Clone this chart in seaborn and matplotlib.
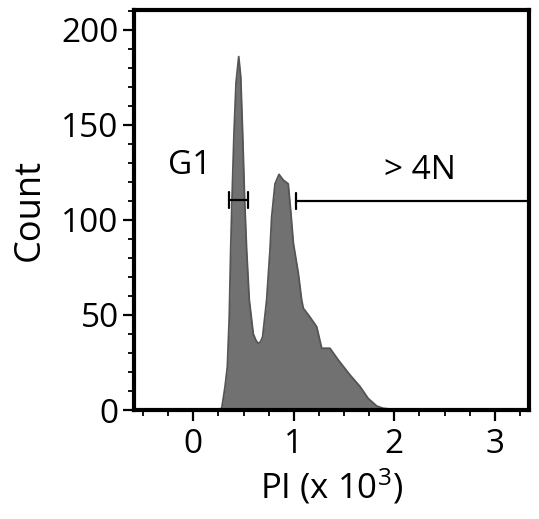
import matplotlib
matplotlib.use("Agg")
import matplotlib.pyplot as plt
from matplotlib.ticker import MultipleLocator
import seaborn as sns
import pandas as pd

# ---- data ----
pi_values = [0.10, 0.22, 0.283, 0.316, 0.339, 0.358, 0.372, 0.385, 0.405, 0.425,
             0.452, 0.472, 0.491, 0.511, 0.531, 0.557, 0.597, 0.625, 0.647, 0.67,
             0.69, 0.73, 0.763, 0.78, 0.813, 0.853, 0.896, 0.945, 0.969, 0.996,
             1.045, 1.078, 1.095, 1.11, 1.16, 1.228, 1.278, 1.36, 1.443, 1.56,
             1.66, 1.74, 1.825, 1.89, 2.05]
counts = [0, 0, 0.9, 12.3, 22.8, 49, 84, 110.5, 145.6, 172,
          186, 175.4, 145.6, 110.5, 84, 58, 40, 36.5, 35, 36,
          38.6, 58, 84, 101.7, 119, 124, 121, 119, 105, 87.7,
          72, 58, 53.5, 52.5, 49, 43.8, 32.5, 32.5, 26.3, 18.4,
          12.3, 6.1, 2.1, 0.9, 0]

gate_names = ["G1", "> 4N"]
gate_x0 = [0.358, 1.019]
gate_x1 = [0.547, 3.40]
gate_y = [110.5, 110.0]
gate_cap_right = [True, False]
label_x = [-0.04, 2.26]
label_y = [128.5, 126.0]

xticks = [0, 1, 2, 3]
yticks = [0, 50, 100, 150, 200]
x_label = "PI (x 10$^{3}$)"
y_label = "Count"

# ---- styling ----
sns.set_style("ticks")
plt.rcParams["font.family"] = ["Open Sans", "DejaVu Sans"]
plt.rcParams["mathtext.fontset"] = "custom"
plt.rcParams["mathtext.rm"] = "Open Sans"
plt.rcParams["mathtext.it"] = "Open Sans"
plt.rcParams["mathtext.default"] = "rm"
plt.rcParams["text.color"] = "black"
plt.rcParams["axes.labelcolor"] = "black"
plt.rcParams["xtick.color"] = "black"
plt.rcParams["ytick.color"] = "black"

fig = plt.figure(figsize=(5.39, 5.19), dpi=100)
ax = fig.add_axes([0.2486, 0.21, 0.7328, 0.7707])

df = pd.DataFrame({"PI": pi_values, "Count": counts})
ax.fill_between(df["PI"], 0, df["Count"], color="#717171", linewidth=0, zorder=1)
sns.lineplot(data=df, x="PI", y="Count", ax=ax, color="#555555", linewidth=1.3,
             sort=False, zorder=2)

for name, x0, x1, y, capr, lx, ly in zip(gate_names, gate_x0, gate_x1, gate_y,
                                         gate_cap_right, label_x, label_y):
    ax.plot([x0, x1], [y, y], color="black", linewidth=1.6, zorder=3, clip_on=True)
    ax.plot([x0, x0], [y - 4.4, y + 4.4], color="black", linewidth=1.6, zorder=3)
    if capr:
        ax.plot([x1, x1], [y - 4.4, y + 4.4], color="black", linewidth=1.6, zorder=3)
    ax.text(lx, ly, name, fontsize=24, ha="center", va="center", color="black")

ax.set_xlim(-0.59, 3.34)
ax.set_ylim(0, 210.5)
ax.set_xticks(xticks)
ax.set_yticks(yticks)
ax.xaxis.set_minor_locator(MultipleLocator(0.25))
ax.yaxis.set_minor_locator(MultipleLocator(10))
ax.tick_params(axis="both", which="major", direction="out", length=8, width=1.6,
               labelsize=24, pad=3, color="black", labelcolor="black")
ax.tick_params(axis="both", which="minor", direction="out", length=4.5, width=1.3,
               color="black")
ax.tick_params(axis="x", which="major", pad=5)

for s in ax.spines.values():
    s.set_visible(True)
    s.set_linewidth(3)
    s.set_color("black")

ax.set_xlabel(x_label, fontsize=25, labelpad=4, color="black")
ax.set_ylabel(y_label, fontsize=26, labelpad=10, color="black")

fig.savefig("out.png", dpi=100)
